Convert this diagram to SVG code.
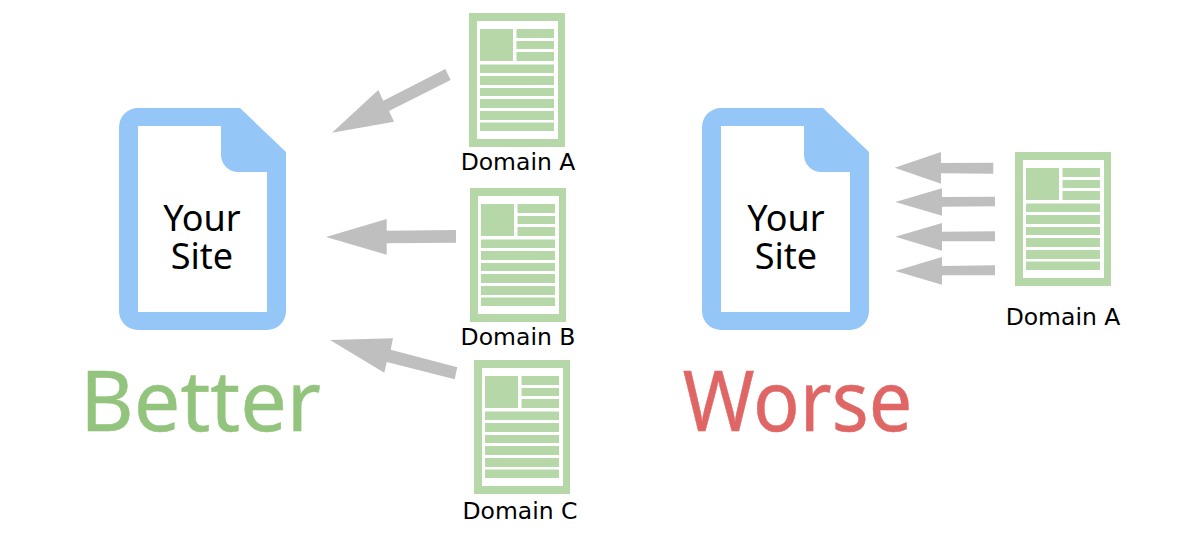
<svg xmlns="http://www.w3.org/2000/svg" width="1200" height="547" viewBox="0 0 1200 547">
<style>
.t{font-family:"Noto Sans","DejaVu Sans",sans-serif;fill:#000;text-anchor:middle}
.site{font-size:36px}
.dom{font-family:"DejaVu Sans","Noto Sans",sans-serif;font-size:23.500px}
.big{font-family:"Noto Sans","DejaVu Sans",sans-serif;font-size:84px;text-anchor:middle;stroke-width:.5px}
.arrow{fill:#bfbfbf}
.g{fill:#b6d7a8}
</style>
<defs>
<g id="page">
<rect class="g" x="0" y="0" width="96" height="134"/>
<rect fill="#fff" x="8" y="8" width="81" height="118"/>
<rect class="g" x="11" y="16" width="33" height="32"/>
<rect class="g" x="47.500" y="16" width="37.500" height="9"/>
<rect class="g" x="47.500" y="28" width="37.500" height="8"/>
<rect class="g" x="47.500" y="39" width="37.500" height="9"/>
<rect class="g" x="11" y="51.500" width="74" height="8.500"/>
<rect class="g" x="11" y="63" width="74" height="9"/>
<rect class="g" x="11" y="75" width="74" height="8"/>
<rect class="g" x="11" y="86" width="74" height="9"/>
<rect class="g" x="11" y="98" width="74" height="9"/>
<rect class="g" x="11" y="109.500" width="74" height="8.500"/>
</g>
<g id="site">
<path fill="#94c7f7" fill-rule="evenodd" d="M19 0H121L167 44V203A19 19 0 0 1 148 222H19A19 19 0 0 1 0 203V19A19 19 0 0 1 19 0Z M19 18V204H148V64H119A17 17 0 0 1 102 47V18Z"/>
</g>
</defs>
<g id="connectors">
<polygon class="arrow" points="445.300,69 450.700,80 389,111 394,121.700 332,132.700 378.300,90 383.300,100.700"/>
<polygon class="arrow" points="456,230 456,242.700 386.700,243.300 386.700,254.700 326,237 386.700,219 386.700,230.700"/>
<polygon class="arrow" points="457.300,367.300 454.700,379.300 386.700,362 384.300,372.700 330,340 393,338.300 390.700,349.700"/>
<polygon class="arrow" points="993.300,162.700 993.300,173.700 941,173.300 941,183.700 894.700,167.700 941,152 941,163"/>
<polygon class="arrow" points="995,196.700 995,206.300 942,206.700 942,215.700 895.300,202 942,188.300 942,197"/>
<polygon class="arrow" points="995,231.300 995,241.300 942,241.300 942,250.700 895.300,236.700 942,223 942,231.700"/>
<polygon class="arrow" points="995,265.300 995,275.300 942,275.300 942,284.700 895.300,271 942,257 942,266"/>
</g>
<g id="site-better">
<use href="#site" x="119" y="108"/>
<text class="t site" x="202" y="231">Your</text>
<text class="t site" x="202" y="269">Site</text>
</g>
<g id="site-worse">
<use href="#site" x="702" y="108"/>
<text class="t site" x="786" y="231">Your</text>
<text class="t site" x="786" y="269">Site</text>
</g>
<g id="domain-a-left">
<use href="#page" x="469" y="13"/>
<text class="t dom" x="518" y="170">Domain A</text>
</g>
<g id="domain-b">
<use href="#page" x="470" y="188"/>
<text class="t dom" x="518" y="345">Domain B</text>
</g>
<g id="domain-c">
<use href="#page" x="474" y="360"/>
<text class="t dom" x="520" y="519">Domain C</text>
</g>
<g id="domain-a-right">
<use href="#page" x="1015" y="152"/>
<text class="t dom" x="1063" y="325">Domain A</text>
</g>
<g id="label-better"><text class="big" transform="translate(200.500 431) scale(.985 1)" fill="#93c47d" stroke="#93c47d">Better</text></g>
<g id="label-worse"><text class="big" transform="translate(797.500 431) scale(.92 1)" fill="#e06666" stroke="#e06666">Worse</text></g>
</svg>
